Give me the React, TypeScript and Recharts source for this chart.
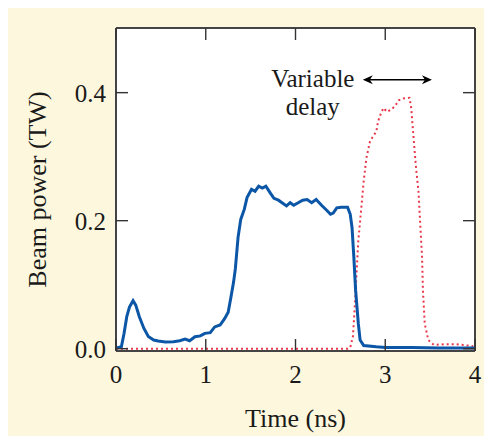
import { LineChart, Line, XAxis, YAxis, CartesianGrid, ReferenceLine, Label } from "recharts";

// main beam (solid blue)
const blueTime = [
	0, 0.06, 0.09, 0.12, 0.15, 0.19, 0.22, 0.26, 0.31, 0.36, 0.42, 0.47, 0.55, 0.64, 0.71, 0.77, 0.82, 0.88,
	0.94, 0.99, 1.05, 1.1, 1.16, 1.21, 1.25, 1.28, 1.31, 1.33, 1.36, 1.39, 1.43, 1.46, 1.51, 1.55, 1.59, 1.63,
	1.67, 1.72, 1.76, 1.81, 1.85, 1.9, 1.94, 1.98, 2.03, 2.08, 2.13, 2.18, 2.23, 2.29, 2.35, 2.39, 2.42, 2.46,
	2.51, 2.58, 2.61, 2.63, 2.65, 2.67, 2.7, 2.72, 2.76, 2.9, 3.0, 3.3, 3.6, 4.0,
];
const bluePower = [
	0.001, 0.003, 0.024, 0.05, 0.065, 0.075, 0.068, 0.05, 0.032, 0.019, 0.0135, 0.012, 0.0104, 0.011, 0.0124,
	0.015, 0.0124, 0.0186, 0.02, 0.024, 0.025, 0.034, 0.037, 0.047, 0.057, 0.08, 0.104, 0.125, 0.174, 0.202,
	0.218, 0.236, 0.249, 0.246, 0.254, 0.251, 0.254, 0.243, 0.235, 0.232, 0.228, 0.223, 0.228, 0.224, 0.228,
	0.232, 0.233, 0.228, 0.233, 0.224, 0.216, 0.21, 0.212, 0.22, 0.221, 0.221, 0.21, 0.189, 0.143, 0.091,
	0.039, 0.0135, 0.005, 0.003, 0.002, 0.002, 0.001, 0.001,
];

// delayed beam (dotted red)
const redTime = [
	0, 2.58, 2.61, 2.64, 2.66, 2.68, 2.7, 2.73, 2.76, 2.79, 2.83, 2.87, 2.9, 2.92, 2.95, 2.98, 3.02, 3.06,
	3.11, 3.15, 3.2, 3.27, 3.29, 3.31, 3.34, 3.37, 3.39, 3.41, 3.42, 3.44, 3.48, 3.54, 3.68, 3.79, 3.98,
];
const redPower = [
	0, 0, 0.002, 0.019, 0.065, 0.117, 0.169, 0.215, 0.262, 0.298, 0.324, 0.333, 0.339, 0.355, 0.367, 0.376,
	0.37, 0.373, 0.379, 0.388, 0.391, 0.392, 0.375, 0.339, 0.287, 0.246, 0.194, 0.143, 0.091, 0.039, 0.0135,
	0.006, 0.007, 0.007, 0.004,
];

const xTicks = [0, 1, 2, 3, 4];
const yTicks = [0, 0.2, 0.4];
const delaySpan = [2.75, 3.52];
const delayLevel = 0.42;

const blueData = blueTime.map((t, i) => ({ t, p: bluePower[i] }));
const redData = redTime.map((t, i) => ({ t, p: redPower[i] }));

const FONT = "'Liberation Serif', 'Times New Roman', serif";
const INK = "#1a1a1a";
const AXIS = "#444";
const TICK = "#333";
const TICK_LEN = 12;

// inward ticks are drawn by hand, label sits outside
function BottomTick(props: any) {
	const { x, y, payload } = props;
	return (
		<g>
			<line x1={x} y1={y - 14} x2={x} y2={y - 14 - TICK_LEN} stroke={TICK} strokeWidth={1.4} />
			<text x={x} y={y + 18} textAnchor="middle" fontSize={25} fontFamily={FONT} fill={INK}>
				{payload.value}
			</text>
		</g>
	);
}

function LeftTick(props: any) {
	const { x, y, payload } = props;
	return (
		<g>
			<line x1={x + 10} y1={y} x2={x + 10 + TICK_LEN} y2={y} stroke={TICK} strokeWidth={1.4} />
			<text x={x} y={y + 9} textAnchor="end" fontSize={25} fontFamily={FONT} fill={INK}>
				{Number(payload.value).toFixed(1)}
			</text>
		</g>
	);
}

function TopTick(props: any) {
	const { x, y } = props;
	return <line x1={x} y1={y} x2={x} y2={y + TICK_LEN} stroke={TICK} strokeWidth={1.4} />;
}

function RightTick(props: any) {
	const { x, y } = props;
	return <line x1={x} y1={y} x2={x - TICK_LEN} y2={y} stroke={TICK} strokeWidth={1.4} />;
}

function DelayArrow(props: any) {
	const { x1, y1, x2 } = props;
	const head = 10;
	return (
		<g>
			<line x1={x1 + 4} y1={y1} x2={x2 - 4} y2={y1} stroke="#000" strokeWidth={1.5} />
			<polygon points={`${x1},${y1} ${x1 + head},${y1 - 4.5} ${x1 + head - 3},${y1} ${x1 + head},${y1 + 4.5}`} fill="#000" />
			<polygon points={`${x2},${y1} ${x2 - head},${y1 - 4.5} ${x2 - head + 3},${y1} ${x2 - head},${y1 + 4.5}`} fill="#000" />
			<text x={x1 - 50} y={y1 + 7} textAnchor="middle" fontSize={25} fontFamily={FONT} fill={INK}>
				Variable
			</text>
			<text x={x1 - 50} y={y1 + 35} textAnchor="middle" fontSize={25} fontFamily={FONT} fill={INK}>
				delay
			</text>
		</g>
	);
}

export default function App() {
	return (
		<div style={{ position: "relative", width: 492, height: 444, margin: -8, background: "#fff", overflow: "hidden" }}>
			<div
				style={{
					position: "absolute",
					left: 6,
					top: 6,
					width: 486,
					height: 438,
					borderTop: "1.5px solid #666",
					borderLeft: "1.5px solid #666",
					background: "#fdf7dd",
				}}
			/>
			<div style={{ position: "absolute", left: 0, top: 0 }}>
				<LineChart width={492} height={444} margin={{ top: 18, right: 7, bottom: 63, left: 56 }}>
					<CartesianGrid fill="#fff" horizontal={false} vertical={false} />
					<Line
						xAxisId="b"
						yAxisId="l"
						data={redData}
						dataKey="p"
						type="linear"
						stroke="#e8384a"
						strokeWidth={2}
						strokeDasharray="2 3"
						dot={false}
						isAnimationActive={false}
					/>
					<Line
						xAxisId="b"
						yAxisId="l"
						data={blueData}
						dataKey="p"
						type="linear"
						stroke="#0b56a6"
						strokeWidth={3}
						dot={false}
						isAnimationActive={false}
					/>
					<XAxis
						xAxisId="b"
						type="number"
						dataKey="t"
						domain={[0, 4]}
						ticks={xTicks}
						interval={0}
						height={30}
						tickSize={0}
						tickMargin={14}
						tick={BottomTick}
						tickLine={false}
						axisLine={{ stroke: AXIS, strokeWidth: 2 }}
						allowDataOverflow
					>
						<Label value="Time (ns)" position="bottom" offset={28} style={{ fontSize: 26, fontFamily: FONT, fill: INK }} />
					</XAxis>
					<XAxis
						xAxisId="t"
						orientation="top"
						type="number"
						dataKey="t"
						domain={[0, 4]}
						ticks={xTicks}
						interval={0}
						height={10}
						tickSize={0}
						tickMargin={0}
						tick={TopTick}
						tickLine={false}
						axisLine={{ stroke: AXIS, strokeWidth: 2 }}
						allowDataOverflow
					/>
					<YAxis
						yAxisId="l"
						type="number"
						domain={[-0.0036, 0.501]}
						ticks={yTicks}
						interval={0}
						width={60}
						tickSize={0}
						tickMargin={10}
						tick={LeftTick}
						tickLine={false}
						axisLine={{ stroke: AXIS, strokeWidth: 2 }}
						allowDataOverflow
					>
						<Label
							value="Beam power (TW)"
							position="center"
							angle={-90}
							dx={-49}
							style={{ fontSize: 26, fontFamily: FONT, fill: INK }}
						/>
					</YAxis>
					<YAxis
						yAxisId="r"
						orientation="right"
						type="number"
						domain={[-0.0036, 0.501]}
						ticks={yTicks}
						interval={0}
						width={10}
						tickSize={0}
						tickMargin={0}
						tick={RightTick}
						tickLine={false}
						axisLine={{ stroke: AXIS, strokeWidth: 2 }}
						allowDataOverflow
					/>
					<ReferenceLine
						xAxisId="b"
						yAxisId="l"
						segment={[
							{ x: delaySpan[0], y: delayLevel },
							{ x: delaySpan[1], y: delayLevel },
						]}
						shape={DelayArrow}
					/>
				</LineChart>
			</div>
		</div>
	);
}
